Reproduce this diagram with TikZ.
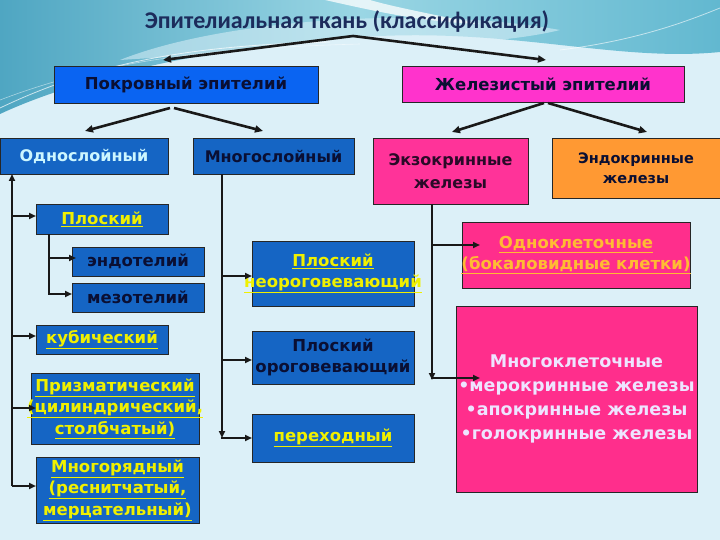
\documentclass[tikz,border=0pt]{standalone}
\usepackage{fontspec}
\setmainfont{DejaVu Sans}
\newfontfamily\titlefont{Carlito}
\usetikzlibrary{arrows.meta,calc}
\definecolor{bgc}{HTML}{DCF0F8}
\definecolor{tealA}{HTML}{4FA6C2}
\definecolor{tealB}{HTML}{9AD6E4}
\definecolor{tealC}{HTML}{62B8D0}
\definecolor{blueA}{HTML}{0A64F2}
\definecolor{blueB}{HTML}{1565C4}
\definecolor{magA}{HTML}{FF33CC}
\definecolor{pinkA}{HTML}{FF3399}
\definecolor{pinkB}{HTML}{FF2E8C}
\definecolor{orangeA}{HTML}{FF9933}
\definecolor{navy}{HTML}{0A0F33}
\definecolor{titlec}{HTML}{1C2C5C}
\definecolor{yel}{HTML}{F0F000}
\definecolor{ora}{HTML}{FFBB33}
\definecolor{lightc}{HTML}{CCF6FF}
\definecolor{lav}{HTML}{EEE4FF}
\definecolor{darkpink}{HTML}{2A0A28}
\tikzset{
  box/.style={draw=black!85, line width=0.8pt, anchor=north west, inner sep=0pt, outer sep=0pt, align=center, font=\bfseries\fontsize{16.5}{21.5}\selectfont},
  arr/.style={draw=black!90, line width=2pt, -{Triangle[length=7pt,width=6pt]}},
  tarr/.style={draw=black!90, line width=2.6pt, -{Triangle[length=8pt,width=7pt]}},
  ln/.style={draw=black!90, line width=2pt}
}
\newcommand{\yu}[1]{\underline{#1}}
\newcommand{\fitw}[2]{\makebox[#1][c]{#2}}
\begin{document}
\begin{tikzpicture}[x=1pt,y=-1pt]
\useasboundingbox (0,0) rectangle (720,540);
% background
\fill[bgc] (0,0) rectangle (720,540);
\shade[left color=tealA, right color=tealC, middle color=tealB]
  (0,0) -- (720,0) -- (720,52) .. controls (620,62) and (520,30) .. (380,36)
  .. controls (240,42) and (90,72) .. (0,114) -- cycle;
\fill[bgc, opacity=0.55] (120,60) .. controls (220,20) and (420,5) .. (560,30)
  .. controls (480,50) and (300,48) .. (120,60) -- cycle;
\fill[white, opacity=0.75] (325,0) .. controls (370,10) and (420,22) .. (480,24)
  .. controls (430,14) and (390,6) .. (370,0) -- cycle;
\draw[white, opacity=0.7, line width=0.8pt] (0,108) .. controls (100,60) and (200,45) .. (330,42);
\draw[white, opacity=0.5, line width=0.6pt] (0,100) .. controls (110,58) and (220,48) .. (360,44);
\draw[white, opacity=0.6, line width=0.8pt] (560,50) .. controls (640,40) and (690,20) .. (720,8);

% title
\node[font=\titlefont\bfseries\fontsize{24}{28}\selectfont, text=titlec] (title) at (347,22) {Эпителиальная ткань (классификация)};

% level 1
\node[box, fill=blueA, text=navy, minimum width=264pt, minimum height=37pt] (pokr) at (54,66) {Покровный эпителий};
\node[box, fill=magA, text=navy, minimum width=282pt, minimum height=36pt] (zhel) at (402,66) {Железистый эпителий};

% level 2
\node[box, fill=blueB, text=lightc, font=\bfseries\fontsize{16}{21}\selectfont, minimum width=168pt, minimum height=36pt] (odno) at (0,138) {Однослойный};
\node[box, fill=blueB, text=navy, font=\bfseries\fontsize{16}{21}\selectfont, minimum width=161pt, minimum height=36pt] (mnogo) at (193,138) {Многослойный};
\node[box, fill=pinkA, text=darkpink, font=\bfseries\fontsize{16}{23}\selectfont, minimum width=155pt, minimum height=66pt] (ekzo) at (373,138) {Экзокринные\\железы};
\node[box, fill=orangeA, text=navy, font=\bfseries\fontsize{14.5}{20}\selectfont, minimum width=168pt, minimum height=60pt] (endo) at (552,138) {Эндокринные\\железы};

% left column
\node[box, fill=blueB, text=yel, minimum width=132pt, minimum height=30pt] (plosk) at (36,204) {\yu{Плоский}};
\node[box, fill=blueB, text=navy, minimum width=132pt, minimum height=29pt] (endot) at (72,247) {эндотелий};
\node[box, fill=blueB, text=navy, minimum width=132pt, minimum height=29pt] (mezot) at (72,283) {мезотелий};
\node[box, fill=blueB, text=yel, minimum width=132pt, minimum height=29pt] (kub) at (36,325) {\yu{кубический}};
\node[box, fill=blueB, text=yel, minimum width=168pt, minimum height=71pt] (prizm) at (31,373) {\yu{Призматический}\\\fitw{160pt}{\yu{(цилиндрический,}}\\\yu{столбчатый)}};
\node[box, fill=blueB, text=yel, minimum width=163pt, minimum height=66pt] (mnogor) at (36,457) {\yu{Многорядный}\\\yu{(реснитчатый,}\\\fitw{155pt}{\yu{мерцательный)}}};

% middle column
\node[box, fill=blueB, text=yel, minimum width=162pt, minimum height=65pt] (pln) at (252,241) {\yu{Плоский}\\\fitw{155pt}{\yu{неороговевающий}}};
\node[box, fill=blueB, text=navy, minimum width=162pt, minimum height=53pt] (plo) at (252,331) {Плоский\\\fitw{155pt}{ороговевающий}};
\node[box, fill=blueB, text=yel, minimum width=162pt, minimum height=48pt] (perekh) at (252,414) {\yu{переходный}};

% right column
\node[box, fill=pinkB, text=ora, minimum width=228pt, minimum height=66pt] (odnokl) at (462,222) {\yu{Одноклеточные}\\\fitw{220pt}{\yu{(бокаловидные клетки)}}};
\node[box, fill=pinkB, text=lav, font=\bfseries\fontsize{17.5}{24}\selectfont, minimum width=241pt, minimum height=186pt] (mnogokl) at (456,306) {Многоклеточные\\•мерокринные железы\\•апокринные железы\\•голокринные железы};

% title arrows
\coordinate (tapex) at (353,36);
\coordinate (tl) at (163,60);
\coordinate (tr) at (546,60);
\draw[tarr] (tapex) -- (tl);
\draw[tarr] (tapex) -- (tr);

% pokr arrows
\coordinate (pk1) at (170,108);
\coordinate (pk2) at (174,108);
\coordinate (pkl) at (85,131);
\coordinate (pkr) at (263,131);
\draw[tarr] (pk1) -- (pkl);
\draw[tarr] (pk2) -- (pkr);

% zhel arrows
\coordinate (zh1) at (544,103);
\coordinate (zh2) at (548,103);
\coordinate (zhl) at (452,132);
\coordinate (zhr) at (647,132);
\draw[tarr] (zh1) -- (zhl);
\draw[tarr] (zh2) -- (zhr);

% left trunk
\coordinate (lbot) at (12,486);
\draw[arr] (lbot) -- (lbot |- odno.south);
\draw[arr] (12,216) -- (plosk.west |- 0,216);
\draw[arr] (12,336) -- (kub.west |- 0,336);
\draw[arr] (12,408) -- ($(prizm.west |- 0,408)+(5,0)$);
\draw[arr] (12,486) -- (mnogor.west |- 0,486);

% sub trunk
\coordinate (stop) at (49,234);
\draw[ln] (stop) -- (49,294);
\draw[arr] (49,258) -- ($(endot.west |- 0,258)+(4,0)$);
\draw[arr] (48,294) -- (mezot.west |- 0,294);

% middle trunk
\coordinate (mtop) at (222,174);
\draw[arr] (mtop) -- (222,438);
\draw[arr] (221,276) -- (pln.west |- 0,276);
\draw[arr] (221,360) -- (plo.west |- 0,360);
\draw[arr] (221,438) -- (perekh.west |- 0,438);

% right trunk
\coordinate (rtop) at (432,204);
\draw[arr] (rtop) -- (432,380);
\draw[arr] (431,245) -- ($(odnokl.west |- 0,245)+(18,0)$);
\draw[arr] (431,378) -- ($(mnogokl.west |- 0,378)+(24,0)$);
\end{tikzpicture}
\end{document}
